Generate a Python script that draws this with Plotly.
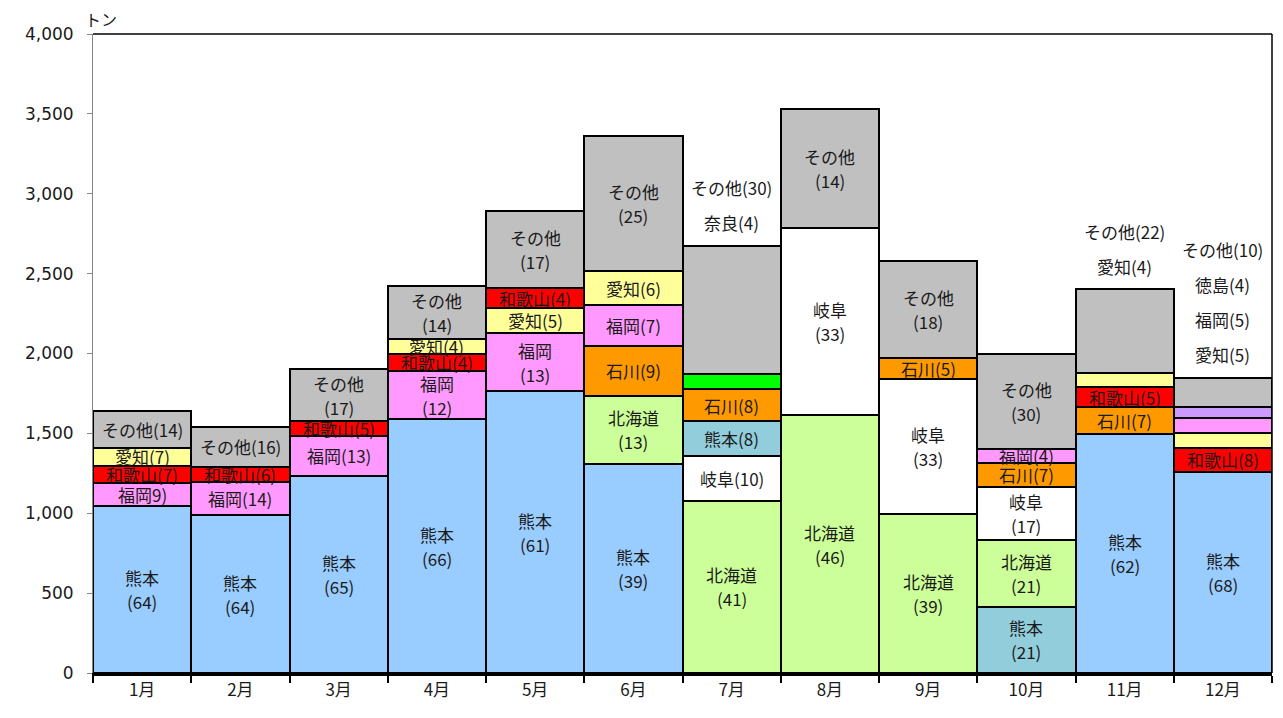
import plotly.graph_objects as go

months = ["1月", "2月", "3月", "4月", "5月", "6月", "7月", "8月", "9月", "10月", "11月", "12月"]

# stacked from the bottom: rank 1 .. rank 5, then その他
rank1_pref = ["熊本", "熊本", "熊本", "熊本", "熊本", "熊本", "北海道", "北海道", "北海道", "熊本", "熊本", "熊本"]
rank1_val = [1045, 989, 1233, 1588, 1765, 1308, 1077, 1615, 995, 415, 1496, 1260]
rank1_lbl = ["熊本<br>(64)", "熊本<br>(64)", "熊本<br>(65)", "熊本<br>(66)", "熊本<br>(61)", "熊本<br>(39)",
             "北海道<br>(41)", "北海道<br>(46)", "北海道<br>(39)", "熊本<br>(21)", "熊本<br>(62)", "熊本<br>(68)"]

rank2_pref = ["福岡", "福岡", "福岡", "福岡", "福岡", "北海道", "岐阜", "岐阜", "岐阜", "北海道", "石川", "和歌山"]
rank2_val = [146, 207, 251, 302, 361, 428, 281, 1173, 845, 418, 171, 147]
rank2_lbl = ["福岡9)", "福岡(14)", "福岡(13)", "福岡<br>(12)", "福岡<br>(13)", "北海道<br>(13)",
             "岐阜(10)", "岐阜<br>(33)", "岐阜<br>(33)", "北海道<br>(21)", "石川(7)", "和歌山(8)"]

rank3_pref = ["和歌山", "和歌山", "和歌山", "和歌山", "愛知", "石川", "熊本", None, "石川", "岐阜", "和歌山", "愛知"]
rank3_val = [105, 94, 93, 105, 157, 311, 219, None, 130, 333, 121, 97]
rank3_lbl = ["和歌山(7)", "和歌山(6)", "和歌山(5)", "和歌山(4)", "愛知(5)", "石川(9)",
             "熊本(8)", None, "石川(5)", "岐阜<br>(17)", "和歌山(5)", None]

rank4_pref = ["愛知", None, None, "愛知", "和歌山", "福岡", "石川", None, None, "石川", "愛知", "福岡"]
rank4_val = [114, None, None, 94, 125, 257, 201, None, None, 151, 88, 90]
rank4_lbl = ["愛知(7)", None, None, "愛知(4)", "和歌山(4)", "福岡(7)",
             "石川(8)", None, None, "石川(7)", None, None]

rank5_pref = [None, None, None, None, None, "愛知", "奈良", None, None, "福岡", None, "徳島"]
rank5_val = [None, None, None, None, None, 212, 94, None, None, 85, None, 73]
rank5_lbl = [None, None, None, None, None, "愛知(6)", None, None, None, "福岡(4)", None, None]

other_val = [230, 250, 326, 334, 484, 846, 801, 743, 609, 595, 526, 182]
other_lbl = ["その他(14)", "その他(16)", "その他<br>(17)", "その他<br>(14)", "その他<br>(17)", "その他<br>(25)",
             None, "その他<br>(14)", "その他<br>(18)", "その他<br>(30)", None, None]

# labels written above the bar (bottom to top)
outside_lbl = {
    "7月": ["奈良(4)", "その他(30)"],
    "11月": ["愛知(4)", "その他(22)"],
    "12月": ["愛知(5)", "福岡(5)", "徳島(4)", "その他(10)"],
}

pref_colors = {"熊本": "#99CCFF", "北海道": "#CCFF99", "福岡": "#FF99FF", "和歌山": "#FF0000",
               "愛知": "#FFFF99", "石川": "#FF9900", "岐阜": "#FFFFFF", "奈良": "#00FF00",
               "徳島": "#CC99FF", "その他": "#C0C0C0"}
alt_kumamoto_months = {"7月", "10月"}
alt_kumamoto_color = "#92CDDC"

ranks = [
    (rank1_pref, rank1_val, rank1_lbl),
    (rank2_pref, rank2_val, rank2_lbl),
    (rank3_pref, rank3_val, rank3_lbl),
    (rank4_pref, rank4_val, rank4_lbl),
    (rank5_pref, rank5_val, rank5_lbl),
    (["その他"] * 12, other_val, other_lbl),
]

LABEL_FONT = dict(family="Noto Sans CJK JP", size=17, color="#1a1a1a")
LINE_H = 24

fig = go.Figure()
annotations = []
base = [0] * 12

for prefs, vals, lbls in ranks:
    colors = []
    for m, p in zip(months, prefs):
        if p is None:
            colors.append("#FFFFFF")
        elif p == "熊本" and m in alt_kumamoto_months:
            colors.append(alt_kumamoto_color)
        else:
            colors.append(pref_colors[p])
    fig.add_trace(go.Bar(
        x=months, y=vals,
        marker=dict(color=colors, line=dict(color="black", width=2.5)),
        hoverinfo="skip", showlegend=False,
    ))
    for i, (v, lb) in enumerate(zip(vals, lbls)):
        if v is None:
            continue
        if lb:
            lines = lb.split("<br>")
            n = len(lines)
            for k, t in enumerate(lines):
                annotations.append(dict(
                    x=months[i], y=base[i] + v / 2, xref="x", yref="y",
                    text=t, showarrow=False, font=LABEL_FONT,
                    yshift=((n - 1) / 2 - k) * LINE_H,
                ))
        base[i] += v

for i, m in enumerate(months):
    for k, t in enumerate(outside_lbl.get(m, [])):
        annotations.append(dict(
            x=m, y=base[i], xref="x", yref="y", text=t, showarrow=False,
            font=LABEL_FONT, yanchor="middle", yshift=23 + 35 * k,
        ))

annotations.append(dict(
    x=0, y=1, xref="paper", yref="paper", text="トン", showarrow=False,
    xanchor="left", yanchor="bottom", xshift=-10, yshift=1,
    font=dict(family="Noto Sans CJK JP", size=16, color="#1a1a1a"),
))

fig.update_layout(
    width=1283, height=718,
    margin=dict(l=93, r=11, t=34, b=45),
    paper_bgcolor="white", plot_bgcolor="white",
    barmode="stack", bargap=0,
    annotations=annotations,
    shapes=[
        dict(type="line", xref="paper", yref="paper", x0=0, x1=1, y0=1, y1=1,
             line=dict(color="black", width=1.5)),
        dict(type="line", xref="paper", yref="paper", x0=1, x1=1, y0=0, y1=1,
             line=dict(color="black", width=1.5)),
    ],
    xaxis=dict(
        type="category", showline=True, linecolor="black", linewidth=2.5,
        ticks="outside", tickson="boundaries", ticklen=7, tickwidth=2, tickcolor="black",
        tickfont=dict(family="Noto Sans CJK JP", size=17, color="#1a1a1a"),
        showgrid=False, zeroline=False,
    ),
    yaxis=dict(
        range=[0, 4000], dtick=500, tickformat=",",
        showline=True, linecolor="#868686", linewidth=1,
        ticks="outside", ticklen=5, tickcolor="#868686",
        tickfont=dict(family="DejaVu Sans", size=17, color="#1a1a1a"),
        ticklabelstandoff=10,
        showgrid=False, zeroline=False,
    ),
)

fig.write_html("out.html")
